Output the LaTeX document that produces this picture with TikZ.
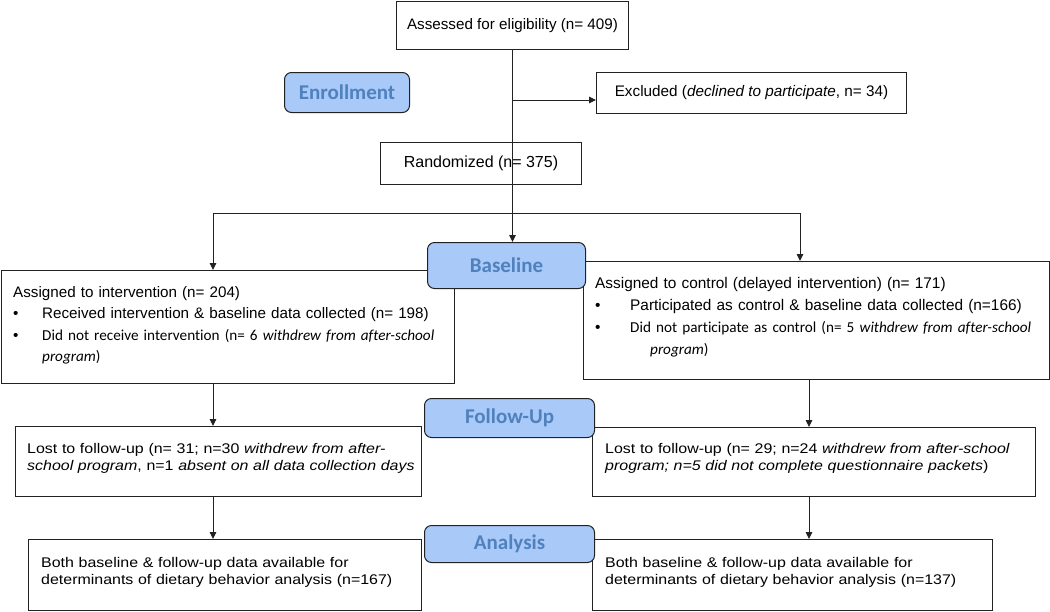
\documentclass[tikz,border=0pt]{standalone}
\usepackage{fontspec}
\setmainfont{Liberation Sans}
\newfontfamily\calibri[Ligatures=NoCommon]{Carlito}
\newfontfamily\wide[FakeStretch=1.14]{Liberation Sans}
\usetikzlibrary{arrows.meta,calc}
\definecolor{phasefill}{HTML}{A9C9F9}
\definecolor{phasetext}{HTML}{4F81BD}
\definecolor{edge}{HTML}{222222}
\begin{document}
\begin{tikzpicture}[x=1pt,y=-1pt,
  box/.style={draw=edge, line width=1pt, rectangle, inner sep=0pt, anchor=north west},
  phase/.style={draw=edge, line width=1pt, fill=phasefill, rounded corners=7pt, anchor=north west,
    inner sep=0pt, font=\calibri\bfseries\fontsize{21}{24}\selectfont, text=phasetext},
  toptxt/.style={font=\fontsize{15.2}{18}\selectfont},
  midtxt/.style={anchor=base west, inner sep=0pt, align=left, font=\fontsize{15.2}{21.5}\selectfont},
  lowtxt/.style={anchor=base west, inner sep=0pt, align=left, font=\wide\fontsize{14}{17}\selectfont},
  arr/.style={draw=edge, line width=0.9pt, -{Triangle[length=7pt,width=6.5pt]}},
  ln/.style={draw=edge, line width=0.9pt}]
\useasboundingbox (0,0) rectangle (1050,611);

% boxes
\node[box, minimum width=232pt, minimum height=48pt, toptxt] (assess) at (396,1) {Assessed for eligibility (n= 409)};
\node[box, minimum width=310pt, minimum height=41pt, font=\fontsize{15.3}{18}\selectfont] (excl) at (596,72) {Excluded (\textit{declined to participate}, n= 34)};
\node[box, minimum width=201pt, minimum height=42pt, font=\fontsize{16}{18}\selectfont] (rand) at (380,142) {Randomized (n= 375)};

\node[box, minimum width=453pt, minimum height=113pt] (interv) at (1,270) {};
\node[box, minimum width=466pt, minimum height=118pt] (ctrl) at (583,261) {};
\node[box, minimum width=406pt, minimum height=70pt] (lostL) at (15,426) {};
\node[box, minimum width=443pt, minimum height=69pt] (lostR) at (592,427) {};
\node[box, minimum width=393pt, minimum height=71pt] (bothL) at (28,539) {};
\node[box, minimum width=400pt, minimum height=71pt] (bothR) at (592,539) {};

% texts
\node[midtxt, text width=440pt] (intervT) at (13,297) {Assigned to intervention (n= 204)\\
\makebox[29pt][l]{•}Received intervention \& baseline data collected (n= 198)\\
\makebox[29pt][l]{•}{\calibri\fontsize{15.2}{21.5}\selectfont Did not receive intervention (n= 6 \textit{withdrew from after-school}}\\
\hspace*{29pt}{\calibri\fontsize{15.2}{21.5}\selectfont\textit{program})}};

\node[midtxt, text width=455pt, font=\fontsize{15.4}{22}\selectfont] (ctrlT) at (595,288) {Assigned to control (delayed intervention) (n= 171)\\
\makebox[35pt][l]{•}Participated as control \& baseline data collected (n=166)\\
\makebox[35pt][l]{•}{\calibri\fontsize{15.2}{22}\selectfont Did not participate as control (n= 5 \textit{withdrew from after-school}}\\
\hspace*{55pt}{\calibri\fontsize{15.2}{22}\selectfont\textit{program})}};

\node[lowtxt, text width=395pt] (lostLT) at (27,453) {Lost to follow-up (n= 31; n=30 \textit{withdrew from after-}\\
\textit{school program}, n=1 \textit{absent on all data collection days}};
\node[lowtxt, text width=430pt] (lostRT) at (605,453) {Lost to follow-up (n= 29; n=24 \textit{withdrew from after-school}\\
\textit{program; n=5 did not complete questionnaire packets})};
\node[lowtxt, text width=380pt] (bothLT) at (41,567) {Both baseline \& follow-up data available for\\
determinants of dietary behavior analysis (n=167)};
\node[lowtxt, text width=390pt] (bothRT) at (605,567) {Both baseline \& follow-up data available for\\
determinants of dietary behavior analysis (n=137)};

% phase labels
\node[phase, minimum width=125pt, minimum height=40pt] (enroll) at (284,72) {Enrollment};
\node[phase, minimum width=158pt, minimum height=46pt] (base) at (427,242) {Baseline};
\node[phase, minimum width=170pt, minimum height=39pt] (follow) at (424,398) {Follow-Up};
\node[phase, minimum width=170pt, minimum height=37pt] (analysis) at (424,525) {Analysis};

% connectors
\coordinate (sp) at (512,100);
\coordinate (cl) at (213,213);
\coordinate (cr) at (800,213);
\coordinate (cr2) at (809,0);
\draw[arr] (assess.south) -- (assess.south |- base.north);
\draw[arr] (sp) -- (sp -| excl.west);
\draw[ln] (cl) -- (cr);
\draw[arr] (cl) -- (cl |- interv.north);
\draw[arr] (cr) -- (cr |- ctrl.north);
\draw[arr] (cl |- interv.south) -- (cl |- lostL.north);
\draw[arr] (cl |- lostL.south) -- (cl |- bothL.north);
\draw[arr] (cr2 |- ctrl.south) -- (cr2 |- lostR.north);
\draw[arr] (cr2 |- lostR.south) -- (cr2 |- bothR.north);
\end{tikzpicture}
\end{document}
